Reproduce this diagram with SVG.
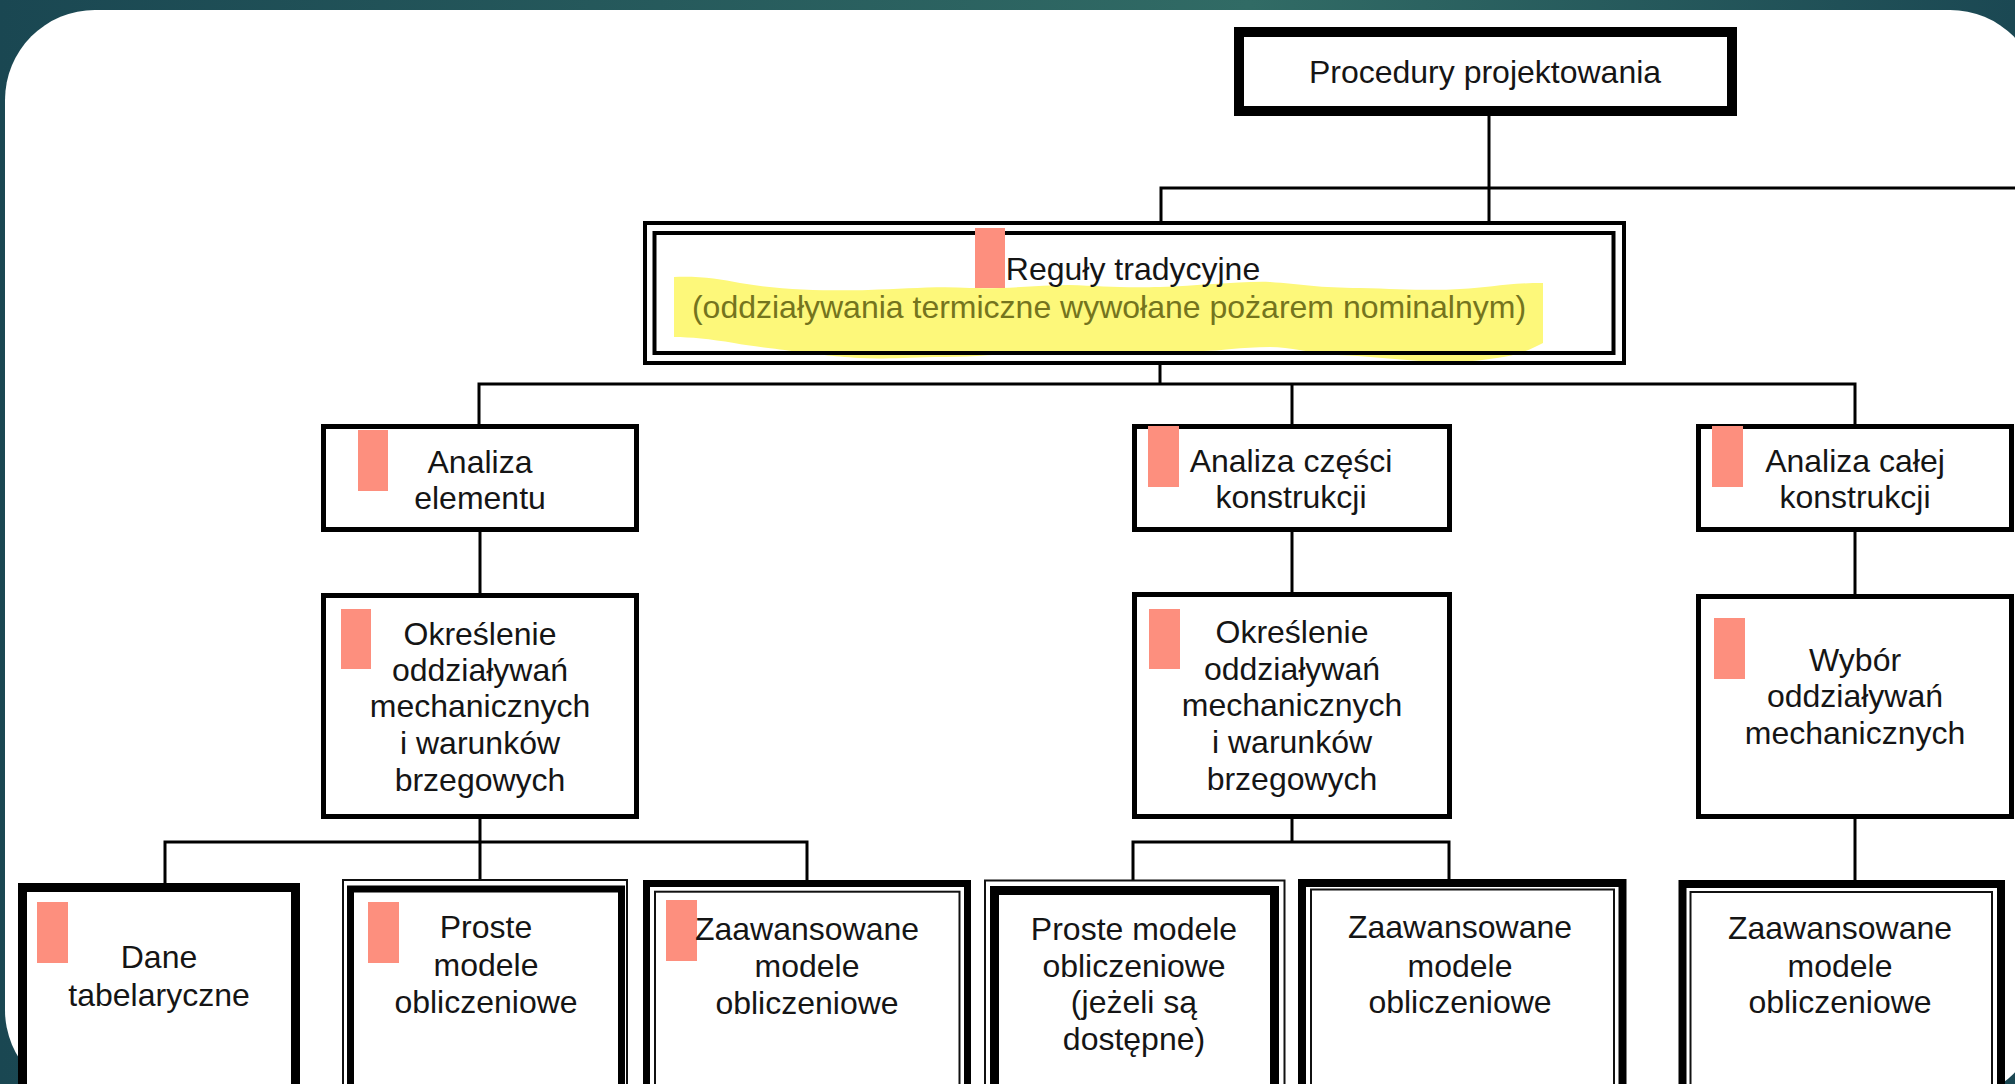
<svg xmlns="http://www.w3.org/2000/svg" width="2015" height="1084" viewBox="0 0 2015 1084">
  <defs>
    <linearGradient id="frame" x1="0" y1="0" x2="1" y2="0">
      <stop offset="0" stop-color="#1a4752"/>
      <stop offset="0.62" stop-color="#316b65"/>
      <stop offset="1" stop-color="#1b4853"/>
    </linearGradient>
    <style>
      .lbl { font-family: "Liberation Sans", Arial, sans-serif; font-size: 32px; fill: #151515; text-anchor: middle; }
      .sub { font-family: "Liberation Sans", Arial, sans-serif; font-size: 32px; fill: #74741e; text-anchor: middle; }
      .box { fill: #ffffff; stroke: #000000; stroke-width: 5; }
      .thin { fill: none; stroke: #111111; stroke-width: 2; }
      .thick { fill: none; stroke: #000000; stroke-width: 8; }
      .tag { fill: #fd8f7e; }
      .wire { fill: none; stroke: #000000; stroke-width: 3; }
    </style>
  </defs>

  <!-- slide frame -->
  <rect x="0" y="0" width="2015" height="1084" fill="url(#frame)"/>
  <rect x="5" y="10" width="2035" height="1090" rx="90" ry="90" fill="#ffffff"/>

  <!-- connectors -->
  <g id="connectors" class="wire">
    <path d="M1489 116 V221"/>
    <path d="M1161 221 V188 H2015"/>
    <path d="M1160 365 V384"/>
    <path d="M479 424 V384 H1855 V424"/>
    <path d="M1292 384 V424"/>
    <path d="M480 532 V593"/>
    <path d="M1292 532 V592"/>
    <path d="M1855 532 V594"/>
    <path d="M480 819 V842"/>
    <path d="M165 883 V842 H807 V880"/>
    <path d="M480 842 V879"/>
    <path d="M1292 819 V842"/>
    <path d="M1133 880 V842 H1449 V879"/>
    <path d="M1855 819 V880"/>
  </g>

  <!-- top node -->
  <g id="procedury">
    <rect x="1239" y="32" width="493" height="79" fill="#ffffff" stroke="#000000" stroke-width="10"/>
    <text class="lbl" x="1485" y="83">Procedury projektowania</text>
  </g>

  <!-- traditional rules -->
  <g id="reguly">
    <rect x="645" y="223" width="979" height="140" fill="#ffffff"/>
    <path d="M674 277 C700 276 720 279 740 283 C780 290 830 291 868 290 C905 289 935 286 970 288 C1010 289 1040 285 1069 285 C1100 286 1120 288 1160 287 C1200 286 1240 281 1270 282 C1300 284 1320 288 1360 288 C1400 289 1430 291 1460 289 C1490 288 1505 283 1543 283 L1543 343 C1530 350 1515 356 1497 358 C1470 362 1450 363 1437 362 C1400 360 1370 356 1337 355 C1310 353 1290 347 1270 347 C1240 347 1220 351 1203 351 C1170 353 1150 355 1120 355 C1080 354 1060 352 1035 353 C1000 354 970 357 935 357 C900 358 880 359 860 358 C830 356 815 354 801 352 C770 348 750 346 734 343 C710 339 690 337 674 337 Z" fill="#fdf87a"/>
    <rect x="645" y="223" width="979" height="140" fill="none" stroke="#000000" stroke-width="4"/>
    <rect x="654.5" y="233" width="959" height="120" fill="none" stroke="#000000" stroke-width="4"/>
    <rect class="tag" x="975" y="228" width="30" height="60"/>
    <text class="lbl" x="1133" y="280">Reguły tradycyjne</text>
    <text class="sub" x="1109" y="318">(oddziaływania termiczne wywołane pożarem nominalnym)</text>
  </g>

  <!-- member analysis branch -->
  <g id="analiza-elementu">
    <rect class="box" x="323.5" y="426.5" width="313" height="103"/>
    <rect class="tag" x="358" y="430" width="30" height="61"/>
    <text class="lbl" x="480" y="473">Analiza</text>
    <text class="lbl" x="480" y="509">elementu</text>
  </g>
  <g id="okreslenie-elementu">
    <rect class="box" x="323.5" y="595.5" width="313" height="221"/>
    <rect class="tag" x="341" y="609" width="30" height="60"/>
    <text class="lbl" x="480" y="645">Określenie</text>
    <text class="lbl" x="480" y="681">oddziaływań</text>
    <text class="lbl" x="480" y="717">mechanicznych</text>
    <text class="lbl" x="480" y="754">i warunków</text>
    <text class="lbl" x="480" y="791">brzegowych</text>
  </g>
  <g id="dane-tabelaryczne">
    <rect x="22.5" y="887.5" width="273" height="250" fill="#ffffff" stroke="#000000" stroke-width="9"/>
    <rect class="tag" x="37" y="902" width="31" height="61"/>
    <text class="lbl" x="159" y="968">Dane</text>
    <text class="lbl" x="159" y="1006">tabelaryczne</text>
  </g>
  <g id="proste-elementu">
    <rect x="343" y="880" width="284" height="250" fill="#ffffff" class="thin"/>
    <rect x="350.5" y="889" width="271" height="250" style="fill:none;stroke:#000;stroke-width:7"/>
    <rect class="tag" x="368" y="902" width="31" height="61"/>
    <text class="lbl" x="486" y="938">Proste</text>
    <text class="lbl" x="486" y="976">modele</text>
    <text class="lbl" x="486" y="1013">obliczeniowe</text>
  </g>
  <g id="zaawansowane-elementu">
    <rect x="646.5" y="883.5" width="321" height="250" fill="#ffffff" style="stroke:#000;stroke-width:7"/>
    <rect class="thin" x="655" y="891.7" width="304.5" height="250"/>
    <rect class="tag" x="666" y="900" width="31" height="61"/>
    <text class="lbl" x="807" y="940">Zaawansowane</text>
    <text class="lbl" x="807" y="977">modele</text>
    <text class="lbl" x="807" y="1014">obliczeniowe</text>
  </g>

  <!-- part of structure branch -->
  <g id="analiza-czesci">
    <rect class="box" x="1134.5" y="426.5" width="315" height="103"/>
    <rect class="tag" x="1148" y="426" width="31" height="61"/>
    <text class="lbl" x="1291" y="472">Analiza części</text>
    <text class="lbl" x="1291" y="508">konstrukcji</text>
  </g>
  <g id="okreslenie-czesci">
    <rect class="box" x="1134.5" y="594.5" width="315" height="222"/>
    <rect class="tag" x="1149" y="609" width="31" height="60"/>
    <text class="lbl" x="1292" y="643">Określenie</text>
    <text class="lbl" x="1292" y="680">oddziaływań</text>
    <text class="lbl" x="1292" y="716">mechanicznych</text>
    <text class="lbl" x="1292" y="753">i warunków</text>
    <text class="lbl" x="1292" y="790">brzegowych</text>
  </g>
  <g id="proste-czesci">
    <rect class="thin" x="985" y="880.5" width="299.5" height="250" fill="#ffffff" style="fill:#ffffff"/>
    <rect class="thick" x="994.5" y="890.5" width="280" height="250" style="stroke-width:9"/>
    <text class="lbl" x="1134" y="940">Proste modele</text>
    <text class="lbl" x="1134" y="977">obliczeniowe</text>
    <text class="lbl" x="1134" y="1013">(jeżeli są</text>
    <text class="lbl" x="1134" y="1050">dostępne)</text>
  </g>
  <g id="zaawansowane-czesci">
    <rect class="thick" x="1302" y="883" width="320.5" height="250" style="fill:#ffffff"/>
    <rect class="thin" x="1311" y="889.5" width="303" height="250"/>
    <text class="lbl" x="1460" y="938">Zaawansowane</text>
    <text class="lbl" x="1460" y="977">modele</text>
    <text class="lbl" x="1460" y="1013">obliczeniowe</text>
  </g>

  <!-- whole structure branch -->
  <g id="analiza-calej">
    <rect class="box" x="1698.5" y="426.5" width="313" height="103"/>
    <rect class="tag" x="1712" y="426" width="31" height="61"/>
    <text class="lbl" x="1855" y="472">Analiza całej</text>
    <text class="lbl" x="1855" y="508">konstrukcji</text>
  </g>
  <g id="wybor">
    <rect class="box" x="1698.5" y="596.5" width="313" height="220"/>
    <rect class="tag" x="1714" y="618" width="31" height="61"/>
    <text class="lbl" x="1855" y="671">Wybór</text>
    <text class="lbl" x="1855" y="707">oddziaływań</text>
    <text class="lbl" x="1855" y="744">mechanicznych</text>
  </g>
  <g id="zaawansowane-calej">
    <rect class="thick" x="1682.5" y="884" width="318.5" height="250" style="fill:#ffffff"/>
    <rect class="thin" x="1690.5" y="892" width="301.5" height="250"/>
    <text class="lbl" x="1840" y="939">Zaawansowane</text>
    <text class="lbl" x="1840" y="977">modele</text>
    <text class="lbl" x="1840" y="1013">obliczeniowe</text>
  </g>
</svg>
